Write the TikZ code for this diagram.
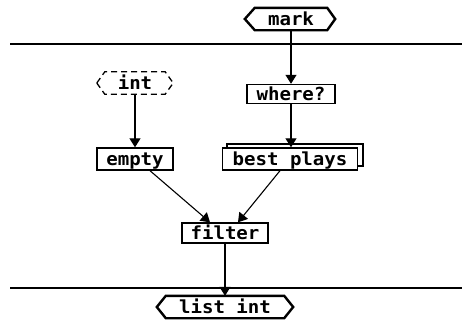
\documentclass[tikz,border=0pt]{standalone}
\usepackage{fontspec}
\newfontfamily\pix{DejaVu Sans Mono}[FakeStretch=1.06]
\usetikzlibrary{arrows.meta}
\tikzset{
 lbl/.style={font=\pix\bfseries\fontsize{18}{18}\selectfont, inner sep=0pt, text height=13pt, text depth=1pt, anchor=center},
 boxn/.style={lbl, draw, line width=1.4pt, fill=white},
 conn/.style={line width=1.1pt, -{Triangle[width=11pt,length=9pt]}},
 hexline/.style={line width=2.4pt, line join=miter},
 dhex/.style={line width=1.3pt, dashed, dash pattern=on 6pt off 4pt},
 sep/.style={line width=1.1pt}
}
\begin{document}
\begin{tikzpicture}[x=1pt,y=-1pt]
\useasboundingbox (0,0) rectangle (462,322);
% separators
\coordinate (tl) at (10,44); \coordinate (tr) at (462,44);
\coordinate (bl) at (10,288); \coordinate (br) at (462,288);
\draw[sep] (tl) -- (tr);
\draw[sep] (bl) -- (br);
% nodes
\node[lbl, minimum width=72pt, minimum height=22pt] (mark) at (291,19) {mark};
\draw[hexline] ([xshift=-10pt]mark.west) -- (mark.north west) -- (mark.north east) -- ([xshift=8pt]mark.east) -- (mark.south east) -- (mark.south west) -- cycle;
\node[lbl, minimum width=60pt, minimum height=22pt] (int) at (135,83) {int};
\draw[dhex] ([xshift=-8pt]int.west) -- (int.north west) -- (int.north east) -- ([xshift=8pt]int.east) -- (int.south east) -- (int.south west) -- cycle;
\node[boxn, minimum width=88pt, minimum height=19pt] (where) at (291,94) {where?};
\node[boxn, minimum width=76pt, minimum height=22pt] (empty) at (135,159) {empty};
\coordinate (bb1) at (227,144); \coordinate (bb2) at (363,166);
\draw[line width=1.4pt, fill=white] (bb1) rectangle (bb2);
\node[boxn, minimum width=135pt, minimum height=22pt] (best) at (290,159) {best plays};
\node[boxn, minimum width=86pt, minimum height=20pt] (filter) at (225,233) {filter};
\node[lbl, minimum width=118pt, minimum height=22pt] (list) at (225,307) {list int};
\draw[hexline] ([xshift=-9pt]list.west) -- (list.north west) -- (list.north east) -- ([xshift=9pt]list.east) -- (list.south east) -- (list.south west) -- cycle;
% connectors
\draw[conn] (mark.south) -- (mark.south |- where.north);
\draw[conn] (where.south) -- (where.south |- best.north);
\draw[conn] (int.south) -- (int.south |- empty.north);
\draw[conn] ([xshift=15pt]empty.south) -- ([xshift=-15pt]filter.north);
\draw[conn] ([xshift=-10pt]best.south) -- ([xshift=13pt]filter.north);
\draw[conn] (filter.south) -- (filter.south |- list.north);
\end{tikzpicture}
\end{document}
